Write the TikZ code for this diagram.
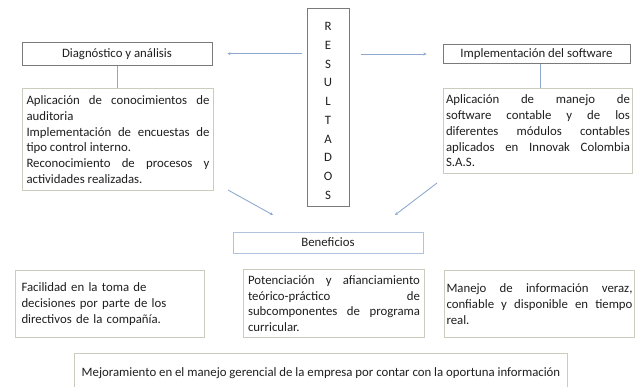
\documentclass[tikz,border=0pt]{standalone}
\usepackage{fontspec}
\setmainfont{Carlito}
\usetikzlibrary{arrows.meta,calc}
\definecolor{boxgray}{HTML}{7A7A7A}
\definecolor{txtgray}{HTML}{C9CDBD}
\definecolor{lineblue}{HTML}{8FA9CF}
\definecolor{benblue}{HTML}{B0C3DE}
\definecolor{txtcol}{HTML}{1E1E1E}
\hyphenpenalty=10000
\exhyphenpenalty=10000
\begin{document}
\begin{tikzpicture}[x=1pt,y=-1pt,
  every node/.style={font=\fontsize{12.8}{15.7}\selectfont, text=txtcol},
  hbox/.style={draw=boxgray, line width=1pt, inner sep=0pt, align=center},
  tbox/.style={draw=txtgray, line width=1pt, anchor=north west, align=justify, inner ysep=0pt},
  conn/.style={draw=lineblue, line width=0.9pt},
  arr/.style={conn, -{Stealth[length=3pt,width=3pt]}}]
\useasboundingbox (0,0) rectangle (637,386);
\clip (0,0) rectangle (637,386);

% header boxes
\node[hbox, minimum width=190pt, minimum height=23pt] (diag) at (117,53.7) {Diagnóstico y análisis};
\node[hbox, minimum width=187pt, minimum height=19pt] (impl) at (536.5,54) {Implementación del software};
\node[hbox, minimum width=42pt, minimum height=198pt, font=\fontsize{12.8}{18.7}\selectfont] (res) at (328,107.5)
  {\rule{0pt}{15pt}R\\E\\S\\U\\L\\T\\A\\D\\O\\S};
\node[hbox, draw=benblue, minimum width=190pt, minimum height=21pt] (ben) at (328,242.5) {Beneficios};

% text boxes
\node[tbox, text width=183pt, inner xsep=4pt, minimum height=102pt] (diagtxt) at (22,88)
  {Aplicación de conocimientos de\linebreak auditoria\\
   Implementación de encuestas de\linebreak tipo control interno.\\
   Reconocimiento de procesos y\linebreak actividades realizadas.};
\node[tbox, text width=184pt, inner xsep=2.5pt, minimum height=85pt] (impltxt) at (443,88)
  {Aplicación de manejo de\linebreak software contable y de los\linebreak diferentes módulos contables\linebreak aplicados en Innovak Colombia\linebreak S.A.S.};

\node[tbox, align=left, text width=177pt, inner xsep=6pt, minimum height=67pt] (fac) at (15,270)
  {Facilidad en la toma de\\decisiones por parte de los\\directivos de la compañía.};
\node[tbox, text width=172pt, inner xsep=4.5pt, minimum height=68pt] (pot) at (243,269)
  {Potenciación y afianciamiento\linebreak teórico-práctico de\linebreak subcomponentes de programa\linebreak curricular.};
\node[tbox, text width=186pt, inner xsep=2pt, minimum height=67pt] (man) at (444,270)
  {Manejo de información veraz,\linebreak confiable y disponible en tiempo\linebreak real.};
\node[draw=txtgray, line width=1pt, anchor=north west, minimum width=493pt, minimum height=40pt] (mej) at (74,353)
  {Mejoramiento en el manejo gerencial de la empresa por contar con la oportuna información};

% connectors
\draw[conn] (diag.south) -- (diag.south |- diagtxt.north);
\draw[conn] ([xshift=3.5pt]impl.south) -- ([xshift=3.5pt]impl.south |- impltxt.north);
\draw[arr, shorten <=5pt, shorten >=15pt] (res.west |- diag) -- (diag);
\draw[arr, shorten <=11pt, shorten >=16pt] (res.east |- impl) -- (impl);
\coordinate (a3s) at (228,190);
\coordinate (a3e) at (273,215);
\coordinate (a4s) at (437,183);
\coordinate (a4e) at (395,215);
\draw[arr] (a3s) -- (a3e);
\draw[arr] (a4s) -- (a4e);
\end{tikzpicture}
\end{document}
